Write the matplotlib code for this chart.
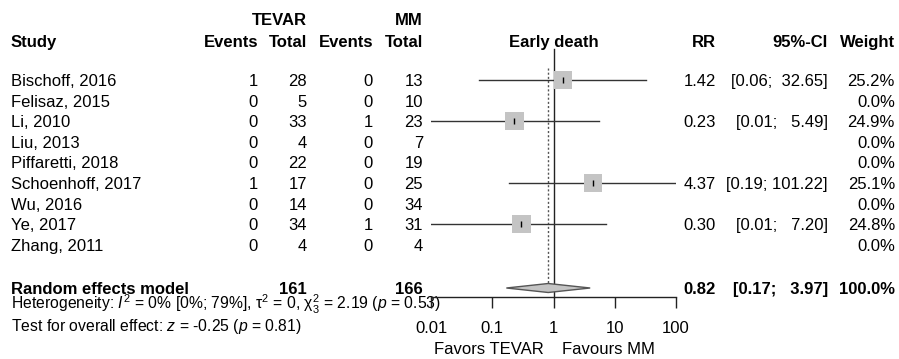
import numpy as np
import matplotlib
matplotlib.use("Agg")
import matplotlib.pyplot as plt
from matplotlib.patches import Polygon

plt.rcParams['font.family'] = ['Liberation Sans', 'DejaVu Sans']
plt.rcParams['mathtext.fontset'] = 'custom'
plt.rcParams['mathtext.rm'] = 'Liberation Sans'
plt.rcParams['mathtext.it'] = 'Liberation Sans:italic'
plt.rcParams['mathtext.bf'] = 'Liberation Sans:bold'

# data
studies = ["Bischoff, 2016", "Felisaz, 2015", "Li, 2010", "Liu, 2013",
           "Piffaretti, 2018", "Schoenhoff, 2017", "Wu, 2016", "Ye, 2017",
           "Zhang, 2011"]
ev_tevar = [1, 0, 0, 0, 0, 1, 0, 0, 0]
n_tevar = [28, 5, 33, 4, 22, 17, 14, 34, 4]
ev_mm = [0, 0, 1, 0, 0, 0, 0, 1, 0]
n_mm = [13, 10, 23, 7, 19, 25, 34, 31, 4]
rr = [1.42, np.nan, 0.23, np.nan, np.nan, 4.37, np.nan, 0.30, np.nan]
ci_lo = [0.06, np.nan, 0.01, np.nan, np.nan, 0.19, np.nan, 0.01, np.nan]
ci_hi = [32.65, np.nan, 5.49, np.nan, np.nan, 101.22, np.nan, 7.20, np.nan]
weight = [25.2, 0.0, 24.9, 0.0, 0.0, 25.1, 0.0, 24.8, 0.0]

pooled_rr, pooled_lo, pooled_hi = 0.82, 0.17, 3.97
total_tevar, total_mm = 161, 166
ticks = [0.01, 0.1, 1, 10, 100]
tick_labels = ["0.01", "0.1", "1", "10", "100"]

W, H = 899, 359
fig = plt.figure(figsize=(W / 100, H / 100), dpi=100)

# text layer in pixel coordinates
tx = fig.add_axes([0, 0, 1, 1])
tx.set_xlim(0, W)
tx.set_ylim(H, 0)
tx.axis('off')

fs = 12
row_y = 80 + 20.6 * np.arange(len(studies))   # row centres
base = 6                                       # centre -> baseline

def put(x, y, s, ha='right', bold=False, size=fs):
    tx.text(x, y, s, ha=ha, va='baseline', fontsize=size,
            fontweight='bold' if bold else 'normal', color='black')

x_study, x_ev1, x_n1, x_ev2, x_n2 = 11, 258, 307, 373, 423
x_rr, x_ci, x_w = 716, 828, 895

# headers
put(x_n1, 25, "TEVAR", bold=True)
put(x_n2, 25, "MM", bold=True)
put(x_study, 47, "Study", ha='left', bold=True)
put(x_ev1, 47, "Events", bold=True)
put(x_n1, 47, "Total", bold=True)
put(x_ev2, 47, "Events", bold=True)
put(x_n2, 47, "Total", bold=True)
put(554, 47, "Early death", ha='center', bold=True)
put(x_rr, 47, "RR", bold=True)
put(x_ci, 47, "95%-CI", bold=True)
put(x_w, 47, "Weight", bold=True)

for i, name in enumerate(studies):
    yb = row_y[i] + base
    put(x_study, yb, name, ha='left')
    put(x_ev1, yb, str(ev_tevar[i]))
    put(x_n1, yb, str(n_tevar[i]))
    put(x_ev2, yb, str(ev_mm[i]))
    put(x_n2, yb, str(n_mm[i]))
    if not np.isnan(rr[i]):
        put(x_rr, yb, f"{rr[i]:.2f}")
        put(x_ci, yb, f"[{ci_lo[i]:.2f}; {f'{ci_hi[i]:.2f}'.rjust(6)}]")
    put(x_w, yb, f"{weight[i]:.1f}%")

y_pool = 288
put(x_study, y_pool + 6, "Random effects model", ha='left', bold=True)
put(x_n1, y_pool + 6, str(total_tevar), bold=True)
put(x_n2, y_pool + 6, str(total_mm), bold=True)
put(x_rr, y_pool + 6, f"{pooled_rr:.2f}", bold=True)
put(x_ci, y_pool + 6, f"[{pooled_lo:.2f}; {f'{pooled_hi:.2f}'.rjust(6)}]", bold=True)
put(x_w, y_pool + 6, "100.0%", bold=True)

put(x_study, 309.5, r"Heterogeneity: $I^2$ = 0% [0%; 79%], $\mathrm{\tau}^2$ = 0, "
    r"$\mathrm{\chi}^2_3$ = 2.19 ($p$ = 0.53)", ha='left', size=11.3)
put(x_study, 331, r"Test for overall effect: $z$ = -0.25 ($p$ = 0.81)", ha='left', size=11.3)

put(544, 354, "Favors TEVAR", ha='right')
put(562, 354, "Favours MM", ha='left')

# forest panel: log x, pixel y
x0, x1 = 431, 676
ax = fig.add_axes([x0 / W, 0, (x1 - x0) / W, 1])
ax.patch.set_alpha(0)
ax.set_xscale('log')
ax.set_xlim(0.01, 100)
ax.set_ylim(H, 0)
for s in ['top', 'left', 'right']:
    ax.spines[s].set_visible(False)
ax.spines['bottom'].set_position(('data', 297))
ax.spines['bottom'].set_linewidth(1)
ax.spines['bottom'].set_color('#222222')
ax.set_yticks([])
ax.set_xticks(ticks)
ax.set_xticklabels(tick_labels, fontsize=fs)
ax.minorticks_off()
ax.tick_params(axis='x', direction='out', length=8, width=1, color='#222222', pad=9.5)

# reference lines
ax.plot([1, 1], [49, 297], color='#222222', lw=1)
ax.plot([pooled_rr, pooled_rr], [68, 283], color='#555555', lw=1, ls=(0, (1.5, 1.5)))

# study estimates
for i in range(len(studies)):
    if np.isnan(rr[i]):
        continue
    ax.plot([ci_lo[i], min(ci_hi[i], 100)], [row_y[i]] * 2, color='#333333', lw=1)
    ax.scatter([rr[i]], [row_y[i]], marker='s', s=175 * weight[i] / 25.2,
               color='#c4c4c4', edgecolors='none', zorder=3)
    ax.scatter([rr[i]], [row_y[i]], marker='|', s=22, color='black',
               linewidths=1, zorder=4)

# pooled diamond
ax.add_patch(Polygon([[pooled_lo, y_pool], [pooled_rr, y_pool - 4.5],
                      [pooled_hi, y_pool], [pooled_rr, y_pool + 4.5]],
                     closed=True, facecolor='#c4c4c4', edgecolor='#555555', lw=1, zorder=3))

fig.savefig('out.png', dpi=100)
